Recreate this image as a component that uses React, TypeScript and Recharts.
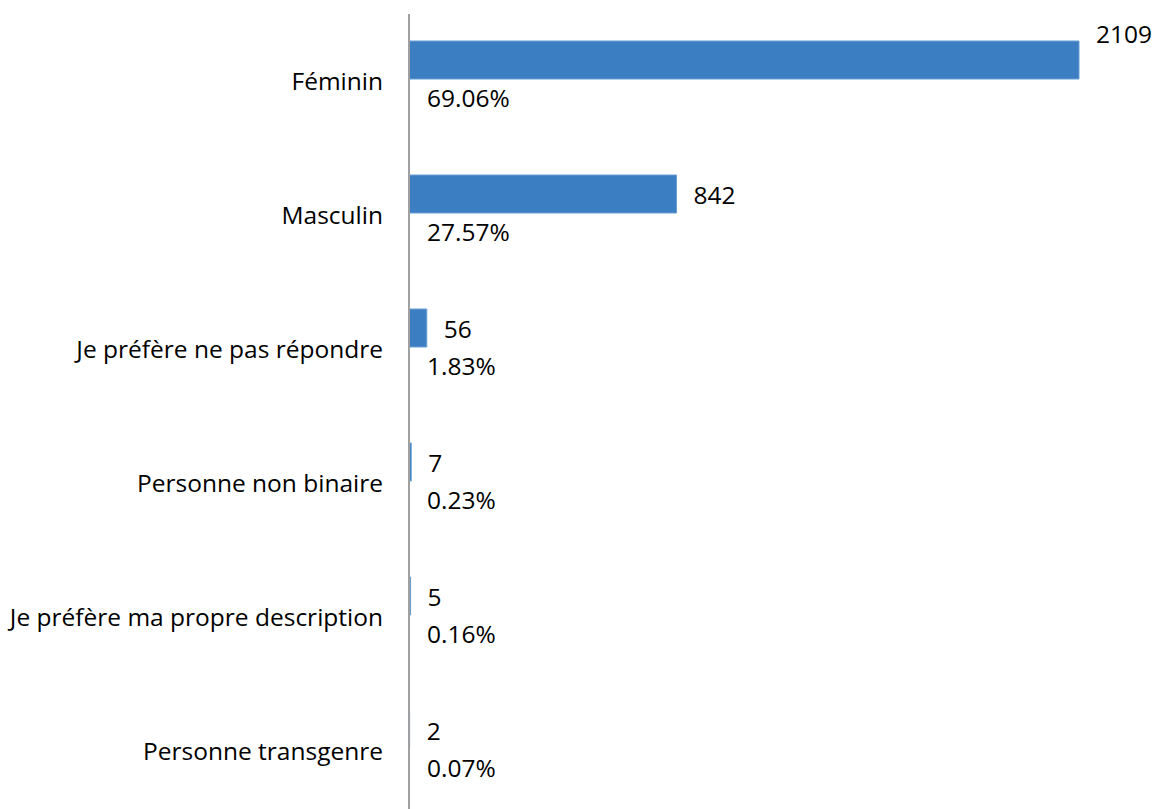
import React from "react";
import { BarChart, Bar, XAxis, YAxis, LabelList } from "recharts";

// values
const categories = [
  "Féminin",
  "Masculin",
  "Je préfère ne pas répondre",
  "Personne non binaire",
  "Je préfère ma propre description",
  "Personne transgenre",
];
const counts = [2109, 842, 56, 7, 5, 2];
const percents = [69.06, 27.57, 1.83, 0.23, 0.16, 0.07];

const data = categories.map((name, i) => ({ name, count: counts[i], pct: percents[i] }));

const W = 1160;
const H = 818;
const RIGHT = 81;
const FONT = "'Open Sans', sans-serif";
const FS = 24.5;

const CountLabel = (props: any) => {
  const { x, y, width, height, value } = props;
  const end = x + width;
  // the longest bar touches the plot edge, its label is lifted above it
  const atEdge = end >= W - RIGHT - 1;
  const cy = atEdge ? y - 8 : y + height / 2;
  return (
    <text x={end + 17} y={cy} dominantBaseline="central" textAnchor="start" fontFamily={FONT} fontSize={FS} fill="#000">
      {value}
    </text>
  );
};

// percentage series is invisible, only its label at the bar base shows
const PctLabel = (props: any) => {
  const { x, y, height, value } = props;
  return (
    <text x={x + 18} y={y + height / 2 - 5} dominantBaseline="central" textAnchor="start" fontFamily={FONT} fontSize={FS} fill="#000">
      {Number(value).toFixed(2)}%
    </text>
  );
};

export default function App() {
  return (
    <div style={{ position: "absolute", left: 0, top: 0, width: W, height: 809, overflow: "hidden", background: "#fff" }}>
      <BarChart
        width={W}
        height={H}
        data={data}
        layout="vertical"
        margin={{ top: 14, right: RIGHT, left: 0, bottom: 0 }}
        barSize={38}
        barGap={4}
      >
        <XAxis type="number" domain={[0, 2109]} hide />
        <YAxis
          type="category"
          dataKey="name"
          width={409}
          tickLine={false}
          tickSize={0}
          tickMargin={26}
          axisLine={{ stroke: "#a0a0a0", strokeWidth: 2 }}
          tick={{ fill: "#000", fontSize: FS, fontFamily: FONT }}
          interval={0}
        />
        <Bar dataKey="count" fill="#3b7fc2" stroke="#6a9fd4" strokeWidth={1} isAnimationActive={false}>
          <LabelList dataKey="count" content={CountLabel} />
        </Bar>
        <Bar dataKey="pct" fill="transparent" stroke="none" isAnimationActive={false}>
          <LabelList dataKey="pct" content={PctLabel} />
        </Bar>
      </BarChart>
    </div>
  );
}
